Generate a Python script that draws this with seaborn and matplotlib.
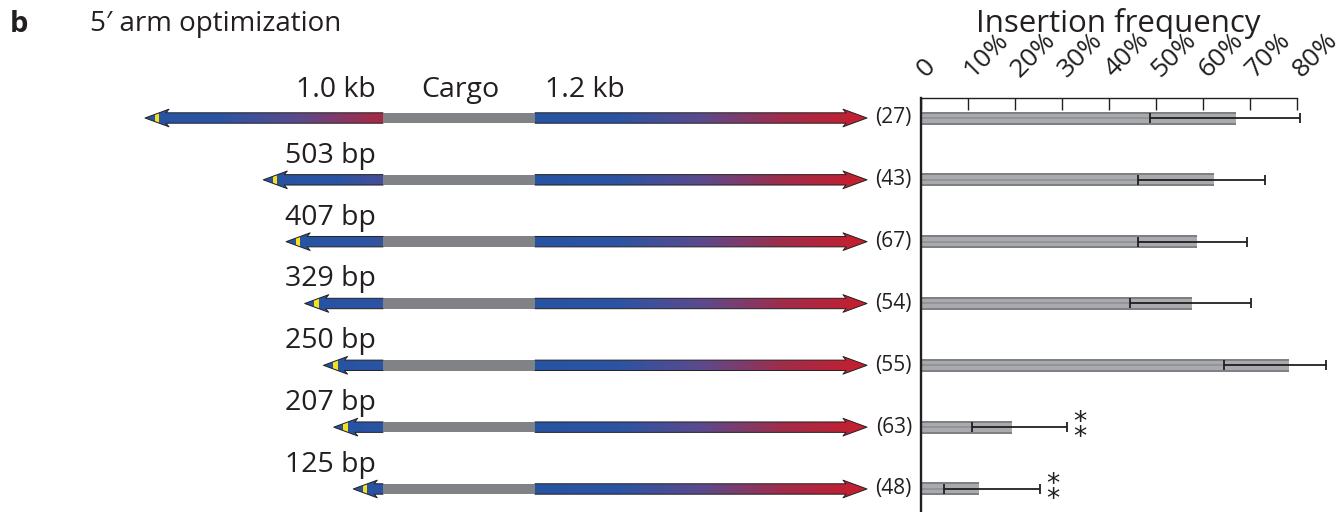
import numpy as np
import pandas as pd
import matplotlib
matplotlib.use("Agg")
import matplotlib.pyplot as plt
import seaborn as sns
from matplotlib.patches import Polygon, Rectangle
from matplotlib.lines import Line2D
from matplotlib.colors import LinearSegmentedColormap

# ---- data -----------------------------------------------------------------
arm_labels = ["1.0 kb", "503 bp", "407 bp", "329 bp", "250 bp", "207 bp", "125 bp"]
arm_bp = [1000, 503, 407, 329, 250, 207, 125]
n_embryos = [27, 43, 67, 54, 55, 63, 48]
freq = [67.0, 62.3, 58.7, 57.7, 78.3, 19.4, 12.4]        # insertion frequency, %
ci_low = [48.7, 46.2, 46.2, 44.5, 64.5, 10.8, 4.9]
ci_high = [80.6, 73.2, 69.3, 70.2, 86.2, 31.0, 25.3]
significance = ["", "", "", "", "", "**", "**"]
pct_ticks = [0, 10, 20, 30, 40, 50, 60, 70, 80]
pct_labels = ["0"] + [f"{t}%" for t in pct_ticks[1:]]

# ---- style ----------------------------------------------------------------
sns.set_style("white")
plt.rcParams["font.family"] = ["Open Sans", "DejaVu Sans"]
INK = "#231f20"

W, H = 1343, 512
fig = plt.figure(figsize=(W / 100, H / 100), dpi=100)

ROW0, ROW_STEP = 118.0, 61.83      # pixel row of first construct, spacing
AX_X0, AX_TOP = 921.0, 98.0        # bar-axis origin and top spine (px)
PX_PER_PCT = 4.7


def row_of(py):
    return (py - ROW0) / ROW_STEP


def rows(px):
    return px / ROW_STEP


# ---- schematic of the donor constructs -------------------------------------
sch = fig.add_axes([0, 0, AX_X0 / W, 1])
sch.set_xlim(0, AX_X0)
sch.set_ylim(row_of(H), row_of(0))
sch.axis("off")

arm_cmap = LinearSegmentedColormap.from_list(
    "arm", ["#2753a4", "#2c54a3", "#5b4a8d", "#a12c4a", "#c81e2d"])

CARGO_L, CARGO_R = 383.0, 535.0
RIGHT_TIP = 867.0
PX_PER_BP = (CARGO_L - 145.0) / 1000.0
SHAFT, HEAD, HEAD_LEN, NOTCH = 5.2, 8.8, 24.0, 3.0


def arrow_outline(tip, base, yc, direction):
    """Vertices from the base-end top, round the head, back to base-end bottom."""
    s = direction  # -1 points left, +1 points right
    hb = tip - s * HEAD_LEN
    nb = tip - s * (HEAD_LEN - NOTCH)
    return [(base, yc - rows(SHAFT)), (nb, yc - rows(SHAFT)), (hb, yc - rows(HEAD)),
            (tip, yc), (hb, yc + rows(HEAD)), (nb, yc + rows(SHAFT)),
            (base, yc + rows(SHAFT))]


def gradient_arrow(verts, g_x0, g_x1, v0, v1, yc):
    clip = Polygon(verts, closed=True, facecolor="none", edgecolor="none")
    sch.add_patch(clip)
    grad = np.linspace(v0, v1, 256).reshape(1, -1)
    im = sch.imshow(grad, cmap=arm_cmap, vmin=0, vmax=1, aspect="auto",
                    extent=[g_x0, g_x1, yc + rows(HEAD), yc - rows(HEAD)],
                    interpolation="bilinear", zorder=2)
    im.set_clip_path(clip)
    xs, ys = zip(*verts)
    sch.add_line(Line2D(xs, ys, color=INK, lw=0.7, zorder=3))
    return clip


for r, bp in enumerate(arm_bp):
    # 5' arm: points left, length scales with arm size, yellow end mark
    tip = CARGO_L - bp * PX_PER_BP
    v = arrow_outline(tip, CARGO_L, r, -1)
    clip = gradient_arrow(v, tip, tip + 1000 * PX_PER_BP, 0.0, 0.78, r)
    band = Rectangle((tip + 9.5, r - rows(HEAD)), 4.5, rows(2 * HEAD),
                     facecolor="#f6e01c", edgecolor="none", zorder=2.5)
    sch.add_patch(band)
    band.set_clip_path(clip)

    # cargo
    sch.add_patch(Rectangle((CARGO_L, r - rows(SHAFT)), CARGO_R - CARGO_L,
                            rows(2 * SHAFT), facecolor="#808285",
                            edgecolor="none", zorder=2))

    # 3' arm: 1.2 kb, points right
    v = arrow_outline(RIGHT_TIP, CARGO_R, r, +1)
    gradient_arrow(v, CARGO_R, RIGHT_TIP, 0.0, 1.0, r)

    # arm length label
    ly = r - rows(21 if r == 0 else 17)
    sch.text(376, ly, arm_labels[r], ha="right", va="baseline",
             fontsize=20.5, color=INK)

sch.text((CARGO_L + CARGO_R) / 2 + 1, row_of(97), "Cargo", ha="center",
         va="baseline", fontsize=20.5, color=INK)
sch.text(545, row_of(97), "1.2 kb", ha="left", va="baseline",
         fontsize=20.5, color=INK)

# ---- insertion frequency bars ---------------------------------------------
bar = fig.add_axes([AX_X0 / W, 0, 1 - AX_X0 / W, (H - AX_TOP) / H])
df = pd.DataFrame({"construct": arm_labels, "freq": freq})

# cylinder-like shading: dark body, lighter core, thin mid line
for width_px, shade in [(13, "#7f8083"), (9, "#a9aaad"), (2, "#939497")]:
    sns.barplot(data=df, x="freq", y="construct", orient="h", color=shade,
                saturation=1, width=width_px / ROW_STEP, linewidth=0,
                errorbar=None, ax=bar, zorder=2)

pos = np.arange(len(freq))
f = np.array(freq)
bar.errorbar(f, pos, xerr=[f - np.array(ci_low), np.array(ci_high) - f],
             fmt="none", ecolor=INK, elinewidth=1.3, capsize=3.4,
             capthick=1.3, zorder=4)

bar.set_xlim(0, (W - AX_X0) / PX_PER_PCT)
bar.set_ylim(row_of(H), row_of(AX_TOP))
bar.set_xlabel("")
bar.set_ylabel("")
bar.set_yticks([])

bar.xaxis.set_ticks_position("top")
bar.set_xticks(pct_ticks)
bar.set_xticklabels(pct_labels, rotation=45, ha="left", va="center",
                    rotation_mode="anchor", fontsize=19, color=INK)
bar.tick_params(axis="x", direction="in", length=8.6, width=1.0,
                pad=18, colors=INK)

for side in ["right", "bottom"]:
    bar.spines[side].set_visible(False)
bar.spines["top"].set_bounds(0, 80)
bar.spines["top"].set_linewidth(1.0)
bar.spines["top"].set_color(INK)
bar.spines["left"].set_linewidth(1.7)
bar.spines["left"].set_color(INK)

for r, n in enumerate(n_embryos):
    bar.annotate(f"({n})", xy=(0, r), xytext=(-6.5, 0),
                 textcoords="offset points", ha="right", va="center",
                 fontsize=15, color=INK, annotation_clip=False)

# significance stars, stacked one above the other
for r, mark in enumerate(significance):
    if mark:
        bar.annotate("\n".join(mark), xy=(ci_high[r], r), xytext=(9.5, -2.5),
                     textcoords="offset points", ha="center", va="center",
                     fontsize=19, linespacing=0.45, color=INK,
                     family="DejaVu Sans")

# ---- headings ---------------------------------------------------------------
fig.text(1118 / W, 1 - 32 / H, "Insertion frequency", ha="center",
         va="baseline", fontsize=22.5, color=INK)
fig.text(10 / W, 1 - 32 / H, "b", ha="left", va="baseline", fontsize=21,
         fontweight="bold", color=INK)
fig.text(90 / W, 1 - 31 / H, "5\u2032 arm optimization", ha="left",
         va="baseline", fontsize=20, color=INK)

fig.savefig("out.png", dpi=100)
